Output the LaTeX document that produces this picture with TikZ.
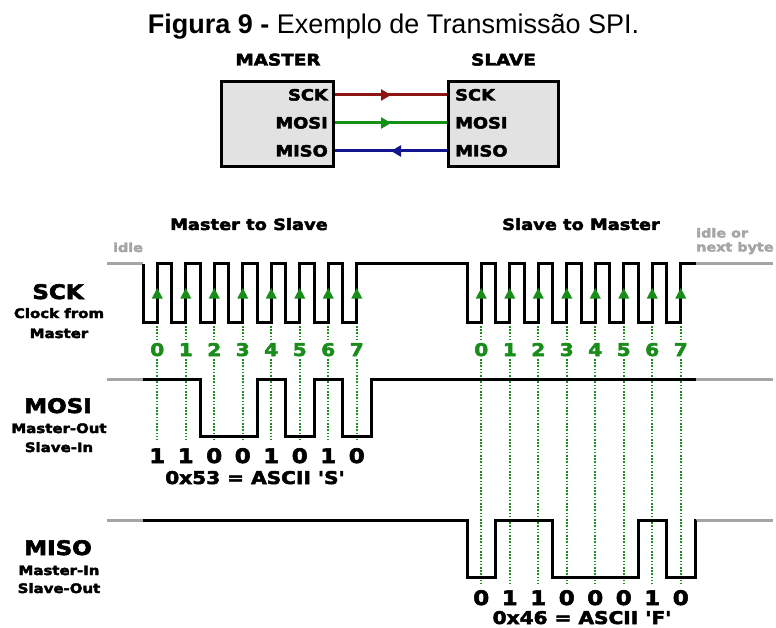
\documentclass[tikz,border=0pt]{standalone}
\usepackage{fontspec}
\setmainfont{Liberation Sans}
\newfontfamily\blk{DejaVu Sans}[UprightFont={* Bold},FakeStretch=1.15,FakeBold=3]
\usetikzlibrary{arrows.meta,decorations.markings}
\definecolor{wgray}{RGB}{165,165,165}
\definecolor{dgreen}{RGB}{25,140,25}
\definecolor{sred}{RGB}{145,20,20}
\definecolor{sgreen}{RGB}{20,145,20}
\definecolor{sblue}{RGB}{20,20,145}
\definecolor{boxfill}{RGB}{226,226,226}
\begin{document}
\begin{tikzpicture}[x=1pt,y=1pt,
  lbl/.style={inner sep=0pt,anchor=base,font=\blk\fontsize{#1}{#1}\selectfont},
  glbl/.style={lbl=#1,text=dgreen},
  gtext/.style={lbl=#1,text=wgray,align=left,anchor=base west},
  devbox/.style={draw,line width=3pt,fill=boxfill,inner sep=0pt},
  sig/.style={draw=#1,line width=3pt,postaction={decorate},
    decoration={markings,mark=at position 0.5 with {\arrow[#1]{Triangle[length=10pt,width=11pt]}}}},
  wave/.style={line width=3pt,line join=miter},
  idleline/.style={draw=wgray,line width=3pt},
  dots/.style={dgreen,line width=1.7pt,dash pattern=on 1.6pt off 1.6pt},
  clkarrow/.style={fill=dgreen}]
\useasboundingbox (0,0) rectangle (776,-628);

% ---------- title ----------
\node[anchor=base,inner sep=0pt,font=\fontsize{27}{30}\selectfont] (title) at (393.5,-34)
  {\textbf{Figura 9 -} Exemplo de Transmissão SPI.};

% ---------- block diagram ----------
\node[lbl=16] (mastert) at (278,-65.5) {MASTER};
\node[lbl=16] (slavet) at (503.5,-65.5) {SLAVE};
\node[devbox,minimum width=112pt,minimum height=85pt] (master) at (277.5,-124) {};
\node[devbox,minimum width=110pt,minimum height=85pt] (slave) at (503.5,-124) {};
\node[lbl=15.5,anchor=base east] (mSCKl) at (328,-100.5) {SCK};
\node[lbl=15.5,anchor=base east] (mMOSIl) at (328,-128.5) {MOSI};
\node[lbl=15.5,anchor=base east] (mMISOl) at (328,-156.5) {MISO};
\node[lbl=15.5,anchor=base west] (sSCKl) at (455,-100.5) {SCK};
\node[lbl=15.5,anchor=base west] (sMOSIl) at (455,-128.5) {MOSI};
\node[lbl=15.5,anchor=base west] (sMISOl) at (455,-156.5) {MISO};
\coordinate (mSCK) at (335,-95);
\coordinate (mMOSI) at (335,-123);
\coordinate (mMISO) at (335,-151);
\coordinate (sSCK) at (447,-95);
\coordinate (sMOSI) at (447,-123);
\coordinate (sMISO) at (447,-151);
\draw[sig=sred] (mSCK) -- (sSCK);
\draw[sig=sgreen] (mMOSI) -- (sMOSI);
\draw[sig=sblue] (sMISO) -- (mMISO);

% ---------- headings ----------
\node[lbl=15.5] (m2s) at (249,-230) {Master to Slave};
\node[lbl=15.5] (s2m) at (581,-230) {Slave to Master};
\node[gtext=12.5,anchor=base] (idle) at (128,-252) {idle};
\node[gtext=12.5] (idle2) at (696,-237.5) {idle or};
\node[gtext=12.5] (idle3) at (696,-251.5) {next byte};

% ---------- left labels ----------
\node[lbl=20] (lSCK) at (58,-299) {SCK};
\node[lbl=13] (lSCK1) at (59,-318) {Clock from};
\node[lbl=13] (lSCK2) at (59,-338) {Master};
\node[lbl=20] (lMOSI) at (58,-413) {MOSI};
\node[lbl=13] (lMOSI1) at (59,-433) {Master-Out};
\node[lbl=13] (lMOSI2) at (59,-452) {Slave-In};
\node[lbl=20] (lMISO) at (58,-555) {MISO};
\node[lbl=13] (lMISO1) at (59,-575) {Master-In};
\node[lbl=13] (lMISO2) at (59,-593) {Slave-Out};

% ---------- dotted sample lines and bit numbers ----------
\foreach \i in {0,...,7}{
  \pgfmathsetmacro{\xl}{157.25+28.5*\i}
  \pgfmathsetmacro{\xr}{481.25+28.5*\i}
  \draw[dots] (\xl,-326) -- (\xl,-340);
  \draw[dots] (\xl,-359) -- (\xl,-440);
  \draw[dots] (\xr,-326) -- (\xr,-340);
  \draw[dots] (\xr,-359) -- (\xr,-584);
  \node[glbl=17.5] (bl\i) at (\xl,-356) {\i};
  \node[glbl=17.5] (br\i) at (\xr,-356) {\i};
}

% ---------- SCK ----------
\draw[idleline] (107,-264) -- (143,-264);
\draw[idleline] (696,-264) -- (773,-264);
\draw[wave] (143,-264)
  \foreach \i in {0,...,7}{
    -- ({143+28.5*\i},-264) -- ({143+28.5*\i},-322)
    -- ({157.25+28.5*\i},-322) -- ({157.25+28.5*\i},-264) }
  \foreach \i in {0,...,7}{
    -- ({467+28.5*\i},-264) -- ({467+28.5*\i},-322)
    -- ({481.25+28.5*\i},-322) -- ({481.25+28.5*\i},-264) }
  -- (696,-264);
\foreach \i in {0,...,7}{
  \pgfmathsetmacro{\xl}{157.25+28.5*\i}
  \pgfmathsetmacro{\xr}{481.25+28.5*\i}
  \fill[clkarrow] (\xl-5.5,-298.5) -- (\xl+5.5,-298.5) -- (\xl,-288) -- cycle;
  \fill[clkarrow] (\xr-5.5,-298.5) -- (\xr+5.5,-298.5) -- (\xr,-288) -- cycle;
}

% ---------- MOSI ----------
\draw[idleline] (107,-379) -- (143,-379);
\draw[idleline] (696,-379) -- (773,-379);
\draw[wave] (143,-379) -- (200,-379) -- (200,-436) -- (257,-436) -- (257,-379)
  -- (285.5,-379) -- (285.5,-436) -- (314,-436) -- (314,-379)
  -- (342.5,-379) -- (342.5,-436) -- (371,-436) -- (371,-379) -- (696,-379);
\foreach \b [count=\i from 0] in {1,1,0,0,1,0,1,0}{
  \node[lbl=20] (mb\i) at ({157.25+28.5*\i},-463) {\b};
}
\node[lbl=17.5] (mosival) at (255,-484) {0x53 = ASCII 'S'};

% ---------- MISO ----------
\draw[idleline] (107,-520) -- (143,-520);
\draw[idleline] (696,-520) -- (773,-520);
\draw[wave] (143,-520) -- (467,-520) -- (467,-577) -- (495.5,-577) -- (495.5,-520)
  -- (552.5,-520) -- (552.5,-577) -- (638,-577) -- (638,-520)
  -- (666.5,-520) -- (666.5,-577) -- (695,-577) -- (695,-520) -- (696,-520);
\foreach \b [count=\i from 0] in {0,1,1,0,0,0,1,0}{
  \node[lbl=20] (sb\i) at ({481.25+28.5*\i},-605) {\b};
}
\node[lbl=17.5] (misoval) at (582,-624) {0x46 = ASCII 'F'};
\end{tikzpicture}
\end{document}
